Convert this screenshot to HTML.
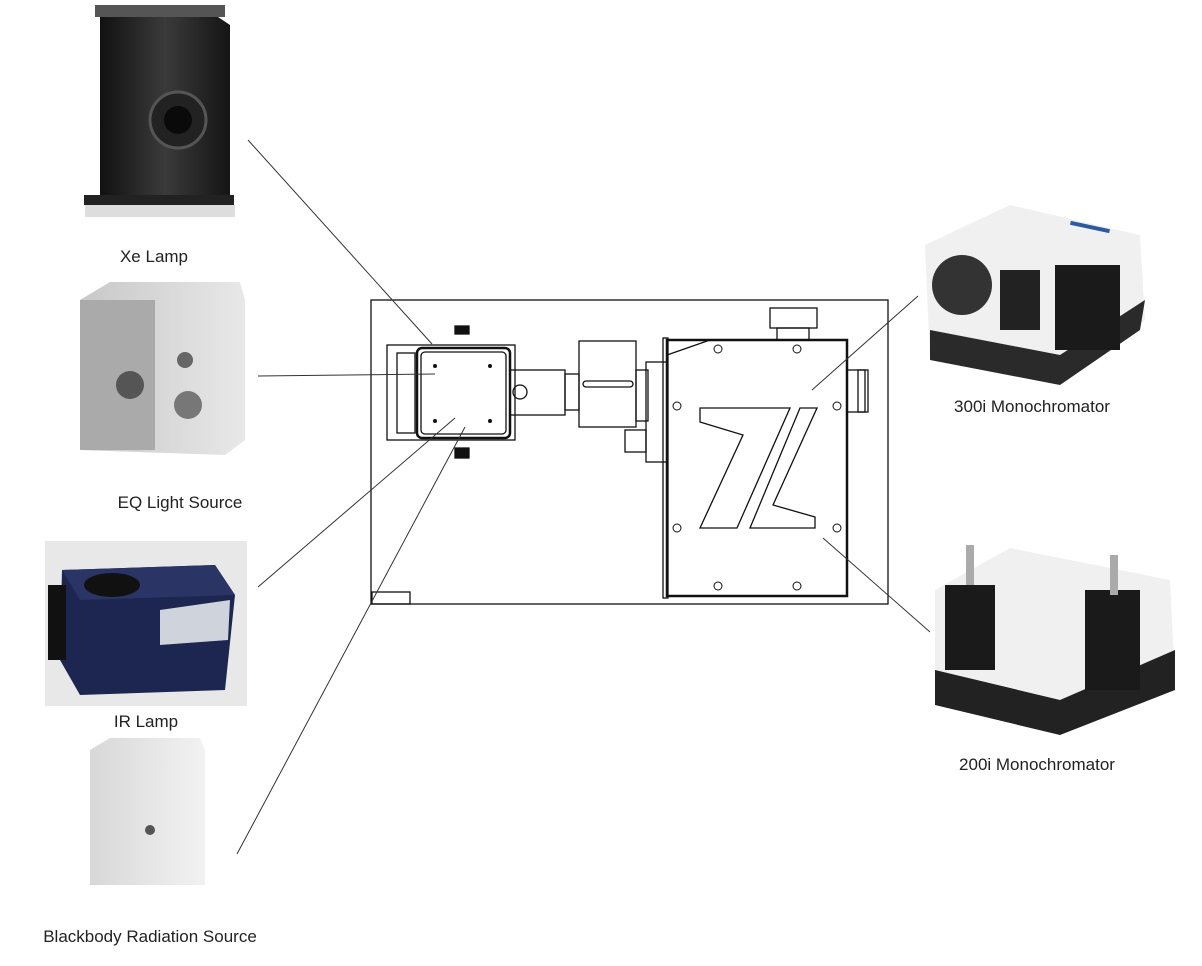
<!DOCTYPE html>
<html><head><meta charset="utf-8"><style>
body{margin:0;background:#fff;width:1202px;height:961px;overflow:hidden;font-family:"Liberation Sans","DejaVu Sans",sans-serif}
</style></head><body>
<svg width="1202" height="961" viewBox="0 0 1202 961" xmlns="http://www.w3.org/2000/svg">
<defs>
<linearGradient id="xe" x1="0" x2="1"><stop offset="0" stop-color="#111"/><stop offset=".5" stop-color="#3a3a3a"/><stop offset="1" stop-color="#151515"/></linearGradient>
<linearGradient id="al" x1="0" x2="1"><stop offset="0" stop-color="#c8c8c8"/><stop offset="1" stop-color="#e8e8e8"/></linearGradient>
<linearGradient id="bb" x1="0" x2="1"><stop offset="0" stop-color="#d8d8d8"/><stop offset="1" stop-color="#f2f2f2"/></linearGradient>
</defs>
<!-- Xe lamp -->
<rect x="85" y="205" width="150" height="12" fill="#ddd"/>
<polygon points="100,15 215,15 230,25 230,200 100,200" fill="url(#xe)"/>
<rect x="95" y="5" width="130" height="12" fill="#555"/>
<circle cx="178" cy="120" r="28" fill="#222" stroke="#555" stroke-width="3"/>
<circle cx="178" cy="120" r="14" fill="#0a0a0a"/>
<rect x="84" y="195" width="150" height="10" fill="#222"/>
<text x="154" y="262" font-size="17" text-anchor="middle" fill="#222">Xe Lamp</text>
<!-- EQ -->
<polygon points="80,300 110,282 240,282 245,300 245,440 225,455 80,450" fill="url(#al)"/>
<rect x="80" y="300" width="75" height="150" fill="#aaa"/>
<circle cx="130" cy="385" r="14" fill="#555"/>
<circle cx="188" cy="405" r="14" fill="#777"/>
<circle cx="185" cy="360" r="8" fill="#666"/>
<text x="180" y="508" font-size="17" text-anchor="middle" fill="#222">EQ Light Source</text>
<!-- IR -->
<rect x="45" y="541" width="202" height="165" fill="#e8e8e8"/>
<polygon points="62,570 215,565 235,595 225,690 80,695 60,660" fill="#1d2650"/>
<polygon points="62,570 215,565 235,595 80,600" fill="#2a3566"/>
<ellipse cx="112" cy="585" rx="28" ry="12" fill="#111"/>
<rect x="48" y="585" width="18" height="75" fill="#111"/>
<polygon points="160,610 230,600 228,640 160,645" fill="#cfd3dc"/>
<text x="146" y="727" font-size="17" text-anchor="middle" fill="#222">IR Lamp</text>
<!-- Blackbody -->
<polygon points="90,750 110,738 200,738 205,750 205,885 90,885" fill="url(#bb)"/>
<circle cx="150" cy="830" r="5" fill="#555"/>
<text x="150" y="942" font-size="17" text-anchor="middle" fill="#222">Blackbody Radiation Source</text>
<!-- 300i -->
<polygon points="925,245 1010,205 1140,235 1145,320 1060,385 930,360" fill="#f0f0f0"/>
<polygon points="930,330 1060,355 1145,300 1140,330 1060,385 930,360" fill="#2a2a2a"/>
<circle cx="962" cy="285" r="30" fill="#333"/>
<rect x="1000" y="270" width="40" height="60" fill="#222"/>
<rect x="1055" y="265" width="65" height="85" fill="#1a1a1a"/>
<rect x="1070" y="225" width="40" height="4" fill="#2a5aa0" transform="rotate(12 1090 227)"/>
<text x="1032" y="412" font-size="17" text-anchor="middle" fill="#222">300i Monochromator</text>
<!-- 200i -->
<polygon points="935,590 1010,548 1170,580 1175,680 1060,735 935,705" fill="#f0f0f0"/>
<polygon points="935,670 1060,700 1175,650 1175,690 1060,735 935,705" fill="#222"/>
<rect x="945" y="585" width="50" height="85" fill="#1a1a1a"/>
<rect x="1085" y="590" width="55" height="100" fill="#1a1a1a"/>
<rect x="966" y="545" width="8" height="40" fill="#aaa"/>
<rect x="1110" y="555" width="8" height="40" fill="#aaa"/>
<text x="1037" y="770" font-size="17" text-anchor="middle" fill="#222">200i Monochromator</text>
<!-- center drawing -->
<g fill="none" stroke="#111" stroke-width="1.3">
<rect x="371" y="300" width="517" height="304"/>
<rect x="372" y="592" width="38" height="12"/>
<rect x="387" y="345" width="128" height="95"/>
<rect x="397" y="353" width="18" height="80"/>
<rect x="417" y="348" width="93" height="90" rx="5" stroke-width="2.5"/>
<rect x="421" y="352" width="85" height="82" rx="4"/>
<rect x="455" y="326" width="14" height="8" fill="#111"/>
<rect x="455" y="448" width="14" height="10" fill="#111"/>
<rect x="510" y="370" width="55" height="45"/>
<rect x="565" y="374" width="14" height="36"/>
<circle cx="520" cy="392" r="7"/>
<rect x="579" y="341" width="57" height="86"/>
<rect x="583" y="381" width="50" height="6" rx="3"/>
<rect x="636" y="370" width="12" height="51"/>
<rect x="646" y="362" width="21" height="100"/>
<rect x="625" y="430" width="21" height="22"/>
<rect x="663" y="338" width="5" height="260"/>
<rect x="667" y="340" width="180" height="256" stroke-width="2.5"/>
<polygon points="667,355 710,340 667,340"/>
<rect x="770" y="308" width="47" height="20"/>
<rect x="777" y="328" width="32" height="12"/>
<rect x="847" y="370" width="18" height="42"/>
<rect x="858" y="370" width="10" height="42"/>
<polygon points="700,408 790,408 737,528 700,528 743,435 700,422"/>
<polygon points="800,408 817,408 773,505 815,517 815,528 750,528"/>
<g stroke-width="1">
<circle cx="718" cy="349" r="4"/><circle cx="797" cy="349" r="4"/>
<circle cx="677" cy="406" r="4"/><circle cx="837" cy="406" r="4"/>
<circle cx="677" cy="528" r="4"/><circle cx="837" cy="528" r="4"/>
<circle cx="718" cy="586" r="4"/><circle cx="797" cy="586" r="4"/>
</g>
</g>
<g fill="#111"><circle cx="435" cy="366" r="2"/><circle cx="490" cy="366" r="2"/><circle cx="435" cy="421" r="2"/><circle cx="490" cy="421" r="2"/></g>
<!-- connectors -->
<g stroke="#333" stroke-width="1">
<line x1="248" y1="140" x2="432" y2="344"/>
<line x1="258" y1="376" x2="435" y2="374"/>
<line x1="258" y1="587" x2="455" y2="418"/>
<line x1="237" y1="854" x2="465" y2="427"/>
<line x1="918" y1="296" x2="812" y2="390"/>
<line x1="823" y1="538" x2="930" y2="632"/>
</g>
</svg>
</body></html>
